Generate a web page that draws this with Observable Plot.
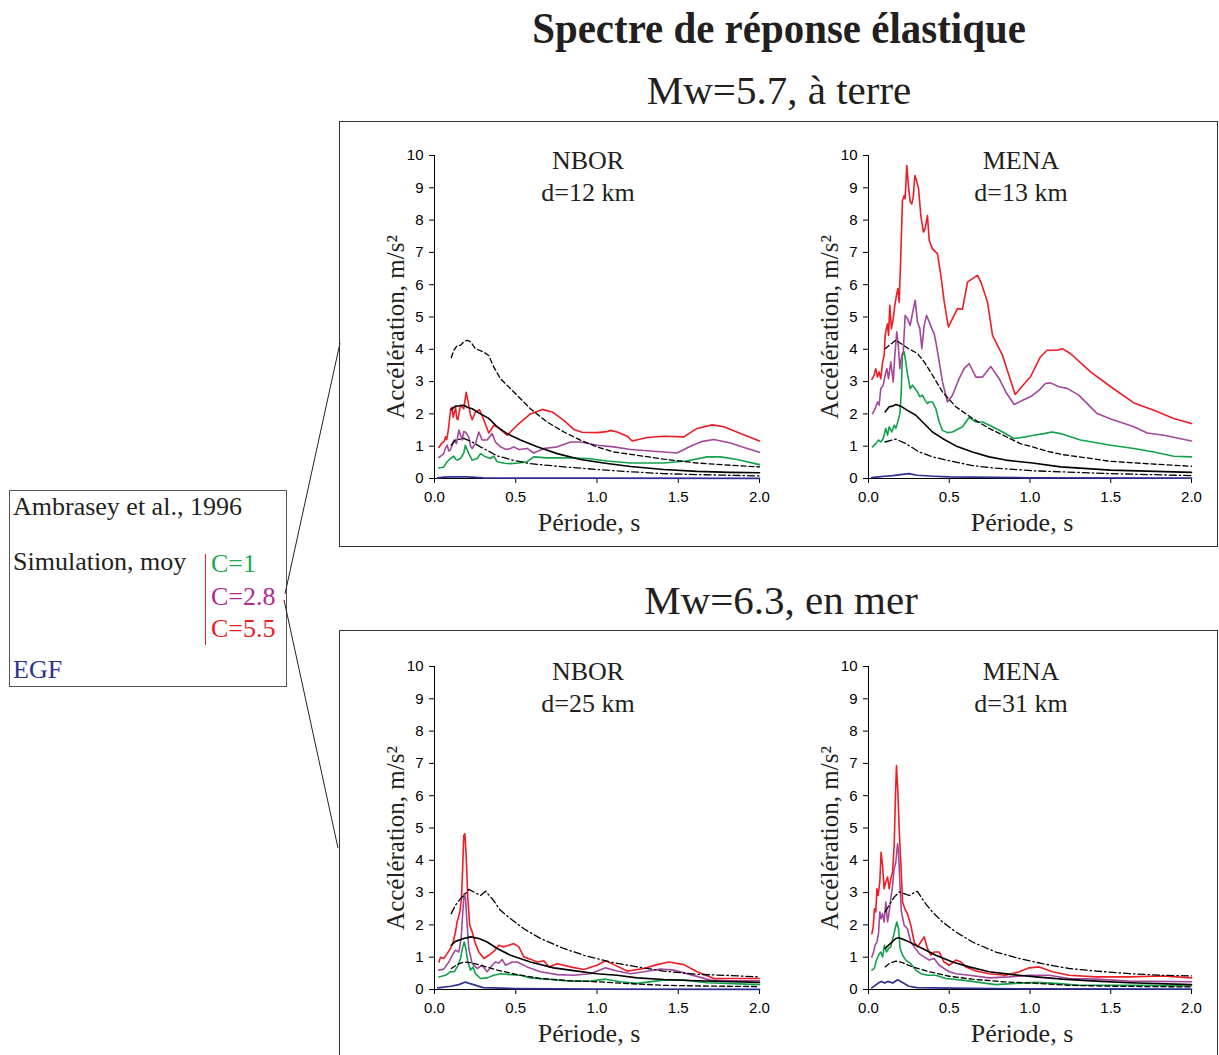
<!DOCTYPE html>
<html><head><meta charset="utf-8">
<script src="https://cdn.jsdelivr.net/npm/d3@7"></script>
<script src="https://cdn.jsdelivr.net/npm/@observablehq/plot@0.6"></script>
<style>
body{margin:0;background:#fff;}
#page{position:relative;width:1219px;height:1055px;overflow:hidden;background:#fff;font-family:"Liberation Serif","Times New Roman",serif;color:#231f20;}
.t{position:absolute;white-space:nowrap;line-height:1;}
.plotbox{position:absolute;}
</style></head><body><div id="page"></div>
<script>
// ---------- text ----------
const mainTitle = "Spectre de réponse élastique";
const sectionTitles = ["Mw=5.7, à terre", "Mw=6.3, en mer"];
const stations = ["NBOR", "MENA", "NBOR", "MENA"];
const distances = ["d=12 km", "d=13 km", "d=25 km", "d=31 km"];
const xLabel = "Période, s";
const yLabel = "Accélération, m/s²";
const legendItems = ["Ambrasey et al., 1996", "Simulation, moy", "C=1", "C=2.8", "C=5.5", "EGF"];
const periodTicks = [0, 0.5, 1, 1.5, 2];
const accelTicks = [0, 1, 2, 3, 4, 5, 6, 7, 8, 9, 10];

// ---------- data: [period s, acceleration m/s2] ----------
// Mw=5.7, NBOR d=12 km
const aC55 = [[0.027,0.96],[0.045,1.1],[0.06,1.15],[0.068,1.29],[0.075,1.2],[0.085,1.5],[0.1,2.16],[0.108,2.2],[0.115,1.9],[0.13,2.2],[0.137,1.85],[0.144,1.82],[0.16,2.27],[0.18,2.16],[0.195,2.67],[0.207,2.37],[0.22,2.0],[0.232,1.82],[0.252,2.06],[0.277,2.13],[0.30,1.86],[0.334,1.41],[0.365,1.65],[0.386,1.6],[0.447,1.34],[0.509,1.65],[0.59,2.0],[0.663,2.14],[0.724,2.06],[0.796,1.8],[0.857,1.52],[0.909,1.43],[1.0,1.42],[1.06,1.45],[1.083,1.49],[1.124,1.44],[1.186,1.31],[1.216,1.16],[1.309,1.27],[1.41,1.31],[1.534,1.29],[1.616,1.55],[1.709,1.66],[1.78,1.60],[1.883,1.39],[2.0,1.16]];
const aC28 = [[0.027,0.65],[0.04,0.7],[0.057,0.77],[0.068,0.95],[0.078,1.03],[0.088,0.85],[0.098,0.88],[0.119,1.19],[0.135,1.08],[0.15,1.5],[0.17,1.19],[0.18,1.45],[0.19,1.44],[0.21,1.29],[0.222,1.0],[0.232,0.93],[0.252,1.08],[0.273,1.44],[0.293,1.19],[0.324,1.19],[0.355,1.39],[0.375,1.13],[0.406,0.98],[0.44,0.9],[0.468,0.93],[0.488,0.98],[0.519,0.9],[0.57,0.93],[0.611,0.79],[0.673,0.93],[0.755,0.98],[0.837,1.13],[0.898,1.13],[1.0,1.03],[1.104,0.98],[1.206,0.9],[1.309,0.86],[1.41,0.82],[1.493,0.79],[1.575,1.0],[1.65,1.15],[1.719,1.21],[1.821,1.10],[1.9,0.97],[2.0,0.81]];
const aC1 = [[0.027,0.33],[0.045,0.34],[0.057,0.36],[0.068,0.45],[0.078,0.52],[0.098,0.62],[0.119,0.69],[0.13,0.6],[0.14,0.57],[0.16,0.62],[0.18,0.79],[0.19,1.03],[0.2,0.9],[0.211,0.77],[0.232,0.57],[0.263,0.62],[0.283,0.77],[0.314,0.67],[0.345,0.62],[0.365,0.69],[0.386,0.52],[0.43,0.47],[0.468,0.46],[0.519,0.48],[0.57,0.52],[0.611,0.67],[0.693,0.64],[0.837,0.64],[0.94,0.62],[1.063,0.54],[1.206,0.48],[1.41,0.48],[1.55,0.54],[1.678,0.67],[1.76,0.67],[1.862,0.59],[2.0,0.43]];
const aEGF = [[0.02,0.02],[0.06,0.04],[0.1,0.05],[0.15,0.05],[0.2,0.05],[0.3,0.02],[0.5,0.01],[1.0,0.01],[2.0,0.005]];
const aMean = [[0.103,2.13],[0.129,2.24],[0.155,2.25],[0.18,2.27],[0.205,2.2],[0.232,2.16],[0.283,2.0],[0.334,1.86],[0.386,1.6],[0.447,1.39],[0.529,1.19],[0.632,0.98],[0.755,0.77],[0.898,0.59],[1.04,0.48],[1.206,0.37],[1.41,0.28],[1.616,0.22],[1.82,0.19],[2.0,0.18]];
const aUpper = [[0.103,3.74],[0.119,3.97],[0.14,4.12],[0.16,4.12],[0.18,4.23],[0.2,4.28],[0.222,4.23],[0.252,4.02],[0.30,3.92],[0.334,3.81],[0.365,3.45],[0.406,3.09],[0.488,2.68],[0.59,2.16],[0.693,1.75],[0.796,1.44],[0.898,1.19],[1.0,0.98],[1.104,0.82],[1.206,0.75],[1.41,0.6],[1.616,0.48],[1.82,0.41],[2.0,0.36]];
const aLower = [[0.103,1.03],[0.129,1.19],[0.18,1.24],[0.232,1.13],[0.283,0.98],[0.386,0.70],[0.488,0.56],[0.59,0.46],[0.796,0.36],[1.0,0.28],[1.206,0.21],[1.41,0.15],[1.616,0.12],[2.0,0.08]];

// Mw=5.7, MENA d=13 km
const bC55 = [[0.021,3.07],[0.035,3.2],[0.045,3.4],[0.056,3.14],[0.066,3.3],[0.076,3.09],[0.087,3.6],[0.097,3.81],[0.103,4.43],[0.111,4.64],[0.118,4.79],[0.124,4.43],[0.132,5.36],[0.142,4.64],[0.153,4.95],[0.163,5.36],[0.173,5.67],[0.182,5.88],[0.19,5.46],[0.2,6.9],[0.21,8.6],[0.221,8.76],[0.227,8.66],[0.237,9.69],[0.248,9.02],[0.258,8.56],[0.268,8.5],[0.277,8.71],[0.287,9.38],[0.297,9.23],[0.31,8.97],[0.324,8.14],[0.34,7.63],[0.35,7.73],[0.365,8.14],[0.376,7.37],[0.396,7.11],[0.427,6.96],[0.448,6.29],[0.469,5.46],[0.495,4.69],[0.52,4.95],[0.551,5.26],[0.582,5.24],[0.613,6.08],[0.644,6.19],[0.675,6.29],[0.696,6.08],[0.737,5.46],[0.768,4.43],[0.83,3.81],[0.908,2.6],[0.974,2.99],[1.003,3.15],[1.065,3.77],[1.106,3.97],[1.168,3.97],[1.2,4.02],[1.25,3.87],[1.375,3.3],[1.5,2.84],[1.643,2.34],[1.767,2.11],[1.89,1.86],[2.0,1.70]];
const bC28 = [[0.025,2.01],[0.041,2.16],[0.056,2.37],[0.066,2.27],[0.076,2.78],[0.091,2.89],[0.103,3.2],[0.114,3.4],[0.124,3.09],[0.138,3.61],[0.153,2.99],[0.163,3.81],[0.175,4.54],[0.186,4.02],[0.194,3.4],[0.206,3.81],[0.215,3.92],[0.227,5.05],[0.241,4.95],[0.258,4.74],[0.272,5.1],[0.289,5.52],[0.303,4.85],[0.318,4.64],[0.33,4.02],[0.345,4.74],[0.359,5.05],[0.376,4.85],[0.392,4.64],[0.407,4.48],[0.417,4.23],[0.438,3.61],[0.458,2.99],[0.489,2.37],[0.52,2.58],[0.561,3.09],[0.592,3.4],[0.623,3.56],[0.665,3.14],[0.706,3.14],[0.757,3.47],[0.809,3.09],[0.85,2.68],[0.902,2.29],[0.974,2.47],[1.003,2.53],[1.055,2.73],[1.096,2.94],[1.127,2.96],[1.178,2.84],[1.23,2.79],[1.302,2.58],[1.416,2.01],[1.5,1.84],[1.643,1.6],[1.726,1.41],[1.829,1.34],[2.0,1.16]];
const bC1 = [[0.025,0.98],[0.045,1.08],[0.062,1.19],[0.076,1.13],[0.091,1.24],[0.107,1.55],[0.118,1.34],[0.128,1.6],[0.144,1.44],[0.159,1.65],[0.169,1.55],[0.184,1.8],[0.194,2.01],[0.202,2.58],[0.21,3.81],[0.221,3.92],[0.231,3.61],[0.241,3.25],[0.258,2.78],[0.272,2.89],[0.289,2.78],[0.303,2.68],[0.318,2.53],[0.334,2.58],[0.351,2.42],[0.365,2.32],[0.376,2.37],[0.396,2.37],[0.417,2.16],[0.438,1.75],[0.458,1.49],[0.489,1.42],[0.52,1.44],[0.582,1.6],[0.623,1.89],[0.665,1.75],[0.706,1.75],[0.768,1.6],[0.83,1.44],[0.902,1.24],[0.974,1.29],[1.024,1.34],[1.086,1.39],[1.137,1.44],[1.189,1.39],[1.313,1.19],[1.5,1.03],[1.643,0.93],[1.767,0.82],[1.89,0.69],[2.0,0.67]];
const bEGF = [[0.02,0.03],[0.06,0.05],[0.1,0.07],[0.15,0.09],[0.2,0.12],[0.25,0.15],[0.3,0.1],[0.4,0.07],[0.5,0.05],[1.0,0.02],[2.0,0.01]];
const bMean = [[0.103,2.06],[0.128,2.22],[0.15,2.24],[0.169,2.29],[0.2,2.24],[0.241,2.11],[0.293,1.96],[0.355,1.65],[0.396,1.44],[0.458,1.24],[0.541,1.01],[0.644,0.82],[0.747,0.67],[0.85,0.57],[0.94,0.52],[1.015,0.48],[1.19,0.36],[1.5,0.26],[2.0,0.19]];
const bUpper = [[0.103,4.02],[0.128,4.12],[0.169,4.28],[0.2,4.18],[0.241,4.04],[0.303,3.87],[0.345,3.61],[0.396,3.2],[0.458,2.68],[0.541,2.22],[0.644,1.86],[0.747,1.55],[0.85,1.3],[0.94,1.08],[1.015,0.98],[1.1,0.85],[1.2,0.74],[1.35,0.64],[1.5,0.53],[1.75,0.45],[2.0,0.38]];
const bLower = [[0.103,1.13],[0.169,1.22],[0.231,1.08],[0.314,0.82],[0.396,0.67],[0.5,0.55],[0.644,0.40],[0.788,0.32],[0.94,0.27],[1.015,0.24],[1.5,0.15],[2.0,0.09]];

// Mw=6.3, NBOR d=25 km
const cC55 = [[0.027,0.85],[0.037,1.0],[0.057,0.96],[0.078,1.11],[0.098,1.27],[0.115,1.47],[0.129,1.78],[0.139,2.09],[0.156,2.4],[0.166,2.81],[0.174,3.84],[0.18,4.77],[0.187,4.82],[0.195,4.15],[0.205,2.81],[0.217,1.99],[0.232,1.78],[0.252,1.42],[0.273,1.16],[0.304,0.96],[0.334,1.06],[0.365,1.18],[0.396,1.37],[0.427,1.32],[0.457,1.37],[0.488,1.42],[0.519,1.32],[0.55,1.01],[0.59,0.94],[0.632,0.85],[0.673,0.89],[0.704,0.70],[0.755,0.80],[0.837,0.70],[0.919,0.62],[1.0,0.75],[1.052,0.89],[1.104,0.77],[1.186,0.57],[1.288,0.65],[1.37,0.77],[1.442,0.85],[1.534,0.77],[1.616,0.55],[1.719,0.34],[1.82,0.34],[2.0,0.34]];
const cC28 = [[0.027,0.6],[0.057,0.63],[0.088,0.85],[0.109,1.06],[0.129,1.22],[0.15,1.16],[0.164,1.58],[0.174,2.4],[0.183,2.97],[0.191,2.81],[0.201,1.99],[0.211,1.27],[0.232,0.8],[0.263,0.65],[0.293,0.75],[0.324,0.55],[0.355,0.75],[0.375,0.85],[0.396,0.82],[0.416,0.93],[0.437,0.75],[0.478,0.85],[0.509,0.85],[0.57,0.70],[0.652,0.55],[0.755,0.46],[0.857,0.44],[0.96,0.49],[1.052,0.67],[1.124,0.57],[1.206,0.49],[1.288,0.55],[1.39,0.63],[1.473,0.6],[1.575,0.46],[1.698,0.29],[1.82,0.27],[2.0,0.27]];
const cC1 = [[0.027,0.39],[0.068,0.44],[0.098,0.55],[0.123,0.55],[0.144,0.75],[0.16,0.96],[0.174,1.32],[0.183,1.47],[0.193,1.27],[0.205,0.85],[0.222,0.6],[0.238,0.7],[0.252,0.49],[0.283,0.34],[0.324,0.36],[0.365,0.44],[0.406,0.49],[0.468,0.46],[0.529,0.44],[0.59,0.36],[0.693,0.32],[0.837,0.26],[0.96,0.26],[1.052,0.32],[1.145,0.24],[1.247,0.19],[1.41,0.29],[1.534,0.29],[1.678,0.21],[2.0,0.15]];
const cEGF = [[0.02,0.05],[0.1,0.1],[0.15,0.15],[0.19,0.23],[0.22,0.18],[0.3,0.06],[0.5,0.03],[1.0,0.01],[2.0,0.005]];
const cMean = [[0.103,1.37],[0.129,1.49],[0.18,1.58],[0.222,1.63],[0.273,1.58],[0.324,1.47],[0.386,1.27],[0.468,1.06],[0.59,0.85],[0.734,0.67],[0.878,0.57],[1.0,0.49],[1.124,0.44],[1.247,0.36],[1.41,0.31],[1.616,0.27],[2.0,0.22]];
const cUpper = [[0.103,2.35],[0.129,2.61],[0.16,2.81],[0.191,2.97],[0.211,3.1],[0.242,3.02],[0.283,2.91],[0.314,3.04],[0.355,2.81],[0.406,2.45],[0.468,2.19],[0.55,1.88],[0.652,1.58],[0.796,1.27],[0.919,1.06],[1.083,0.85],[1.247,0.70],[1.41,0.57],[1.616,0.47],[1.78,0.44],[2.0,0.39]];
const cLower = [[0.103,0.65],[0.139,0.77],[0.18,0.85],[0.222,0.83],[0.283,0.75],[0.386,0.6],[0.509,0.46],[0.652,0.34],[0.837,0.27],[1.0,0.24],[1.206,0.18],[1.41,0.13],[1.616,0.11],[2.0,0.09]];

// Mw=6.3, MENA d=31 km
const dC55 = [[0.021,1.73],[0.029,1.94],[0.037,2.5],[0.045,2.4],[0.052,3.12],[0.06,2.91],[0.07,3.33],[0.078,4.25],[0.087,3.84],[0.097,3.12],[0.107,3.33],[0.118,3.48],[0.128,3.12],[0.138,3.43],[0.149,3.64],[0.159,4.46],[0.167,6.0],[0.173,6.93],[0.182,6.1],[0.19,4.97],[0.2,3.94],[0.211,2.71],[0.225,2.5],[0.241,2.35],[0.262,1.99],[0.283,1.47],[0.303,1.32],[0.324,1.47],[0.345,1.63],[0.365,1.27],[0.386,1.06],[0.406,1.16],[0.438,1.16],[0.468,0.85],[0.5,0.75],[0.541,0.91],[0.572,0.85],[0.603,0.7],[0.665,0.57],[0.747,0.49],[0.85,0.44],[0.933,0.55],[0.995,0.67],[1.057,0.7],[1.139,0.55],[1.242,0.44],[1.41,0.39],[1.614,0.39],[1.82,0.42],[2.0,0.36]];
const dC28 = [[0.021,1.01],[0.031,1.16],[0.041,1.37],[0.052,1.47],[0.062,1.73],[0.07,2.4],[0.078,2.19],[0.087,2.35],[0.097,2.09],[0.107,2.71],[0.118,2.09],[0.128,2.4],[0.138,2.81],[0.149,3.22],[0.159,3.74],[0.169,3.94],[0.18,4.51],[0.186,4.25],[0.194,3.33],[0.204,2.4],[0.221,1.99],[0.241,1.88],[0.262,1.47],[0.283,1.32],[0.314,1.11],[0.345,1.01],[0.376,0.91],[0.406,0.96],[0.438,0.75],[0.468,0.65],[0.5,0.55],[0.541,0.49],[0.623,0.44],[0.747,0.36],[0.871,0.39],[0.995,0.44],[1.119,0.44],[1.242,0.34],[1.41,0.32],[1.614,0.26],[2.0,0.24]];
const dC1 = [[0.021,0.6],[0.035,0.65],[0.05,0.91],[0.062,1.06],[0.076,1.16],[0.087,1.01],[0.099,1.37],[0.111,1.16],[0.124,1.27],[0.138,1.32],[0.153,1.63],[0.165,1.88],[0.175,2.09],[0.186,1.88],[0.196,1.27],[0.211,1.06],[0.231,0.91],[0.262,0.8],[0.293,0.6],[0.324,0.49],[0.365,0.44],[0.417,0.44],[0.479,0.34],[0.582,0.29],[0.685,0.22],[0.788,0.15],[0.912,0.19],[1.036,0.22],[1.16,0.19],[1.305,0.13],[1.51,0.13],[1.717,0.13],[2.0,0.11]];
const dEGF = [[0.02,0.05],[0.04,0.12],[0.06,0.2],[0.08,0.25],[0.1,0.2],[0.12,0.25],[0.15,0.2],[0.18,0.3],[0.2,0.25],[0.25,0.1],[0.3,0.06],[0.5,0.04],[1.0,0.02],[2.0,0.01]];
const dMean = [[0.103,1.27],[0.128,1.39],[0.169,1.58],[0.19,1.6],[0.231,1.52],[0.272,1.42],[0.334,1.27],[0.417,1.06],[0.52,0.85],[0.623,0.70],[0.747,0.55],[0.892,0.46],[1.036,0.39],[1.201,0.32],[1.41,0.26],[1.614,0.21],[2.0,0.15]];
const dUpper = [[0.103,2.4],[0.128,2.61],[0.159,2.86],[0.19,3.02],[0.221,2.97],[0.252,2.91],[0.283,3.0],[0.303,3.04],[0.345,2.71],[0.396,2.4],[0.458,2.09],[0.541,1.78],[0.644,1.47],[0.788,1.16],[0.933,0.96],[1.077,0.8],[1.242,0.65],[1.41,0.57],[1.614,0.49],[1.82,0.44],[2.0,0.42]];
const dLower = [[0.103,0.70],[0.128,0.8],[0.169,0.88],[0.211,0.83],[0.272,0.70],[0.376,0.55],[0.5,0.41],[0.644,0.32],[0.83,0.24],[1.036,0.19],[1.242,0.13],[1.51,0.10],[2.0,0.08]];

// ---------- styles ----------
const colRed = "#ee1c25", colPurple = "#a3479b", colGreen = "#13a24b", colBlue = "#2e3192";
const serif = "'Liberation Serif','Times New Roman',serif";
const sans = "'Liberation Sans',Arial,sans-serif";
const dashed = "5,3", dashDot = "7,3,1.5,3";

const page = document.getElementById("page");
function addText(txt, left, top, size, opts = {}) {
  const el = document.createElement("div");
  el.className = "t";
  el.textContent = txt;
  el.style.left = left + "px";
  el.style.top = top + "px";
  el.style.fontSize = size + "px";
  if (opts.color) el.style.color = opts.color;
  if (opts.bold) el.style.fontWeight = "bold";
  if (opts.width) { el.style.width = opts.width + "px"; el.style.textAlign = "center"; }
  if (opts.transform) { el.style.transform = opts.transform; el.style.transformOrigin = "center"; }
  page.appendChild(el);
  return el;
}

// headings
addText(mainTitle, 379, 7, 44, {bold: true, width: 800, transform: "scaleX(0.93)"});
addText(sectionTitles[0], 379, 70, 41, {width: 800});
addText(sectionTitles[1], 381, 580, 41, {width: 800});

// legend
addText(legendItems[0], 13, 494, 26);
addText(legendItems[1], 13, 549, 26);
addText(legendItems[2], 211, 551, 26, {color: "#1daa4b"});
addText(legendItems[3], 211, 584, 26, {color: "#b02a92"});
addText(legendItems[4], 211, 616, 26, {color: colRed});
addText(legendItems[5], 13, 657, 26, {color: colBlue});

// panels
const panels = [
  {left: 354, top: 135, pw: 325, st: 0, egf: aEGF, c1: aC1, c28: aC28, c55: aC55, mean: aMean, up: aUpper, low: aLower, upDash: dashed, lowDash: dashDot},
  {left: 788, top: 135, pw: 323, st: 1, egf: bEGF, c1: bC1, c28: bC28, c55: bC55, mean: bMean, up: bUpper, low: bLower, upDash: dashed, lowDash: dashDot},
  {left: 354, top: 646, pw: 325, st: 2, egf: cEGF, c1: cC1, c28: cC28, c55: cC55, mean: cMean, up: cUpper, low: cLower, upDash: dashDot, lowDash: dashed},
  {left: 788, top: 646, pw: 323, st: 3, egf: dEGF, c1: dC1, c28: dC28, c55: dC55, mean: dMean, up: dUpper, low: dLower, upDash: dashDot, lowDash: dashed}
];

const px = d => d[0], py = d => d[1];
for (const p of panels) {
  const ML = 80, MT = 20, MR = 20, MB = 70, PH = 323;
  const chart = Plot.plot({
    width: ML + p.pw + MR,
    height: MT + PH + MB,
    marginLeft: ML, marginTop: MT, marginRight: MR, marginBottom: MB,
    style: {background: "transparent", fontFamily: sans, fontSize: "15px", color: "#000", maxWidth: "none", overflow: "visible"},
    x: {domain: [0, 2], ticks: periodTicks, tickFormat: d3.format(".1f"), tickSize: 5, tickPadding: 8, label: null},
    y: {domain: [0, 10], ticks: accelTicks, tickFormat: d3.format("d"), tickSize: 5, tickPadding: 6, label: null},
    marks: [
      Plot.ruleY([0], {stroke: "#000", strokeWidth: 1}),
      Plot.ruleX([0], {stroke: "#000", strokeWidth: 1}),
      Plot.line(p.egf, {x: px, y: py, stroke: colBlue, strokeWidth: 1.7}),
      Plot.line(p.c1, {x: px, y: py, stroke: colGreen, strokeWidth: 1.6}),
      Plot.line(p.c28, {x: px, y: py, stroke: colPurple, strokeWidth: 1.6}),
      Plot.line(p.c55, {x: px, y: py, stroke: colRed, strokeWidth: 1.6}),
      Plot.line(p.mean, {x: px, y: py, stroke: "#000", strokeWidth: 1.6}),
      Plot.line(p.up, {x: px, y: py, stroke: "#000", strokeWidth: 1.3, strokeDasharray: p.upDash}),
      Plot.line(p.low, {x: px, y: py, stroke: "#000", strokeWidth: 1.3, strokeDasharray: p.lowDash}),
      Plot.text([stations[p.st] + "\n" + distances[p.st]], {text: d => d, frameAnchor: "top", lineAnchor: "top", textAnchor: "middle", dx: -9, dy: -10, fontSize: 26, fontFamily: serif, lineHeight: 1.25, fill: "#231f20"}),
      Plot.text([xLabel], {text: d => d, frameAnchor: "bottom", lineAnchor: "top", textAnchor: "middle", dx: -8, dy: 34, fontSize: 26, fontFamily: serif, fill: "#231f20"}),
      Plot.text([yLabel], {text: d => d, frameAnchor: "left", lineAnchor: "middle", textAnchor: "middle", rotate: -90, dx: -39, dy: 10, fontSize: 25, fontFamily: serif, fill: "#231f20"})
    ]
  });
  const box = document.createElement("div");
  box.className = "plotbox";
  box.style.left = p.left + "px";
  box.style.top = p.top + "px";
  box.appendChild(chart);
  page.appendChild(box);
}

// decoration overlay: section frames, legend box, bracket and connectors
const ns = "http://www.w3.org/2000/svg";
const ov = document.createElementNS(ns, "svg");
ov.setAttribute("width", 1219); ov.setAttribute("height", 1055);
ov.style.position = "absolute"; ov.style.left = "0"; ov.style.top = "0"; ov.style.pointerEvents = "none";
ov.innerHTML = `
  <rect x="339.5" y="121.5" width="878" height="425" fill="none" stroke="#333" stroke-width="1"/>
  <rect x="339.5" y="630.5" width="878" height="500" fill="none" stroke="#333" stroke-width="1"/>
  <rect x="9.5" y="490.5" width="277" height="196" fill="none" stroke="#555" stroke-width="1"/>
  <line x1="205.5" y1="554" x2="205.5" y2="645" stroke="${colRed}" stroke-width="1"/>
  <line x1="285" y1="594" x2="340" y2="343" stroke="#222" stroke-width="1"/>
  <line x1="284" y1="600" x2="338" y2="848" stroke="#222" stroke-width="1"/>`;
page.appendChild(ov);
</script></body></html>
